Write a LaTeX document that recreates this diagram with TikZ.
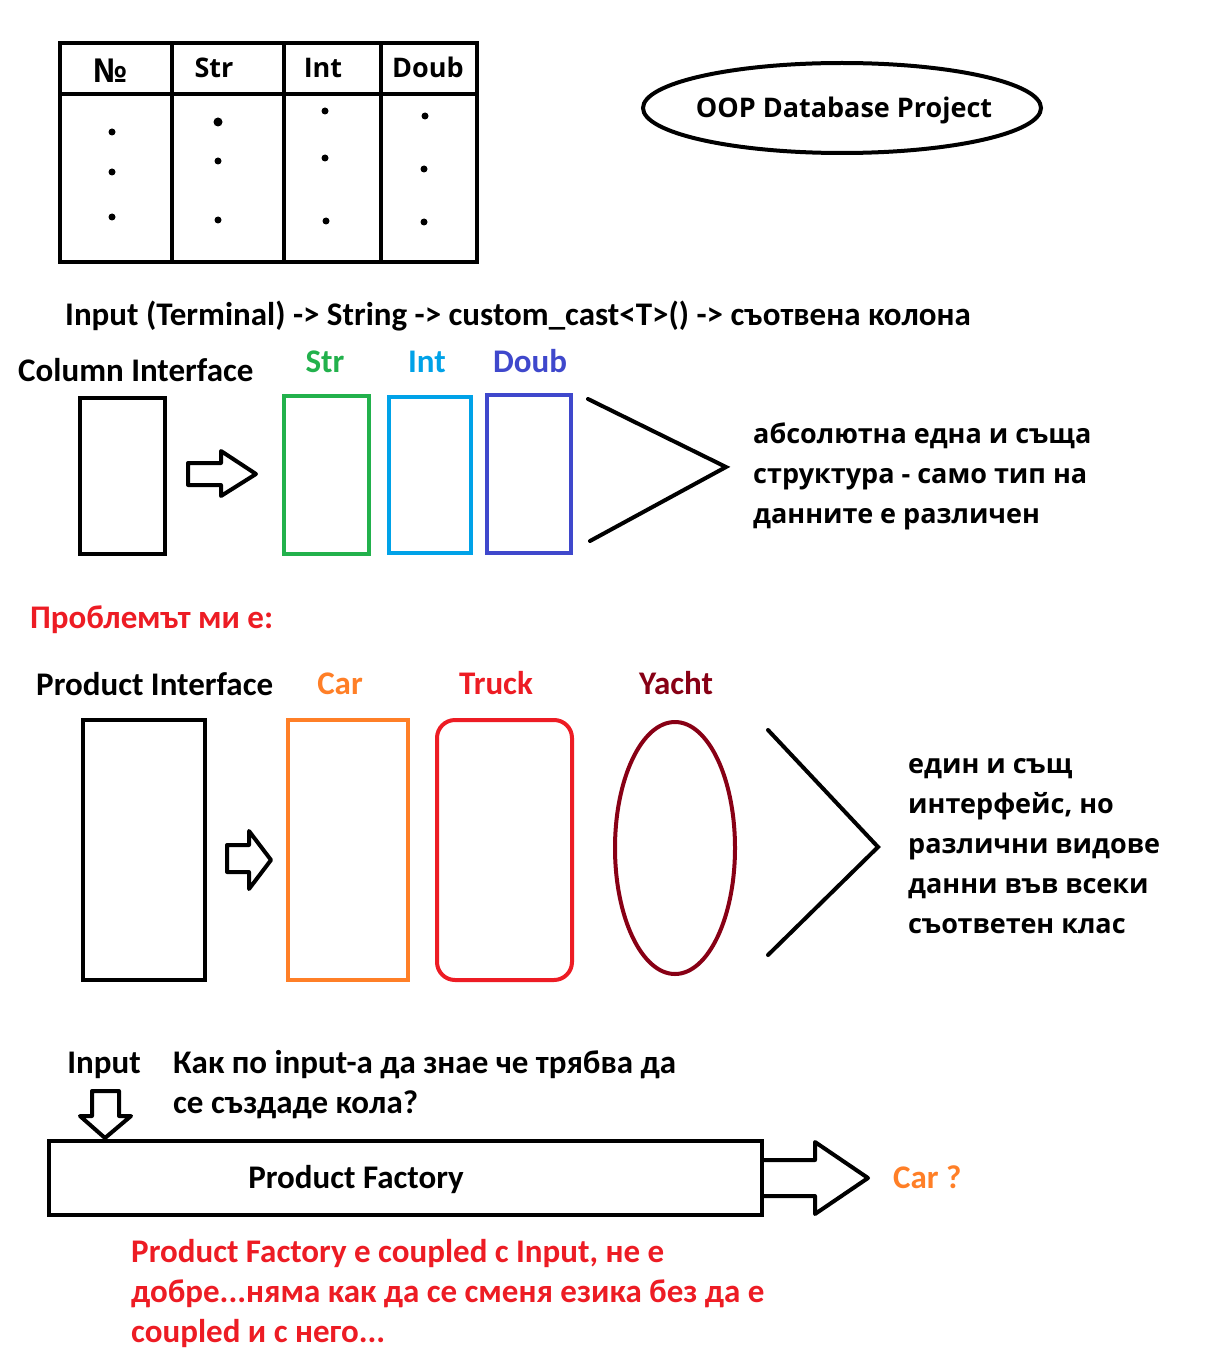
\documentclass[tikz,border=0pt]{standalone}
\usepackage{fontspec}
\setmainfont{Carlito}
\newfontfamily\seg{Open Sans}
\definecolor{cgreen}{RGB}{34,177,76}
\definecolor{ccyan}{RGB}{0,162,232}
\definecolor{cblue}{RGB}{63,72,204}
\definecolor{corange}{RGB}{255,127,39}
\definecolor{cred}{RGB}{237,28,36}
\definecolor{cdred}{RGB}{136,0,21}
\tikzset{
  tcal/.style={font=\fontsize{33}{38}\selectfont\bfseries, inner sep=0pt},
  tseg/.style={font=\seg\fontsize{27}{32}\selectfont\bfseries, inner sep=0pt},
  box/.style={draw, line width=4pt},
  hollow/.style={draw, line width=4pt, line join=round, fill=white},
  dot/.style={circle, fill=black, inner sep=0pt, minimum size=7pt},
}
\begin{document}
\begin{tikzpicture}[x=1pt,y=-1pt]
\useasboundingbox (0,0) rectangle (1222,1364);
\fill[white] (0,0) rectangle (1222,1364);

% ---- table ----
\draw[line width=4pt] (60,43) rectangle (477,262);
\draw[line width=4pt] (60,94) -- (477,94);
\draw[line width=4pt] (172,43) -- (172,262);
\draw[line width=4pt] (284,43) -- (284,262);
\draw[line width=4pt] (381,43) -- (381,262);
\node[tseg, anchor=base, font=\seg\fontsize{33}{38}\selectfont\bfseries] (hno) at (110,83) {№};
\node[tseg, anchor=base] (hstr) at (214,78) {Str};
\node[tseg, anchor=base] (hint) at (323,78) {Int};
\node[tseg, anchor=base] (hdoub) at (428,78) {Doub};
\node[dot] (d11) at (112,132) {};
\node[dot] (d12) at (112,172) {};
\node[dot] (d13) at (112,217) {};
\node[dot, minimum size=9pt] (d21) at (218,122) {};
\node[dot] (d22) at (218,161) {};
\node[dot] (d23) at (218,220) {};
\node[dot] (d31) at (325,111) {};
\node[dot] (d32) at (325,158) {};
\node[dot] (d33) at (326,221) {};
\node[dot] (d41) at (425,116) {};
\node[dot] (d42) at (424,169) {};
\node[dot] (d43) at (424,222) {};

% ---- title ellipse ----
\draw[line width=4pt] (842,108) ellipse [x radius=199, y radius=45];
\node[tseg, anchor=base] (title) at (844,118) {OOP Database Project};

% ---- pipeline line ----
\node[tcal, anchor=base west] (pipe) at (65,325) {Input (Terminal) -> String -> custom\_cast<T>() -> съотвена колона};

% ---- column interface ----
\node[tcal, anchor=base west] (colif) at (18,381) {Column Interface};
\node[tcal, anchor=base, text=cgreen] (lstr) at (325,372) {Str};
\node[tcal, anchor=base, text=ccyan] (lint) at (427,372) {Int};
\node[tcal, anchor=base, text=cblue] (ldoub) at (530,372) {Doub};
\draw[box] (80,398) rectangle (165,554);
\draw[hollow] (188,463) -- (221,463) -- (221,451) -- (256,474) -- (221,496) -- (221,485) -- (188,485) -- cycle;
\draw[box, cgreen] (284,396) rectangle (369,554);
\draw[box, ccyan] (389,397) rectangle (471,553);
\draw[box, cblue] (487,395) rectangle (571,553);
\draw[line width=4pt, line cap=round] (588,399) -- (726,467) -- (590,541);
\node[tseg, anchor=base west] (c1) at (753,443) {абсолютна една и съща};
\node[tseg, anchor=base west] (c2) at (753,483) {структура - само тип на};
\node[tseg, anchor=base west] (c3) at (753,523) {данните е различен};

% ---- problem ----
\node[tcal, anchor=base west, text=cred] (prob) at (30,628) {Проблемът ми е:};
\node[tcal, anchor=base west] (prodif) at (36,695) {Product Interface};
\node[tcal, anchor=base, text=corange] (lcar) at (340,694) {Car};
\node[tcal, anchor=base, text=cred] (ltruck) at (496,694) {Truck};
\node[tcal, anchor=base, text=cdred] (lyacht) at (676,694) {Yacht};
\draw[box] (83,720) rectangle (205,980);
\draw[hollow] (227,845) -- (249,845) -- (249,831) -- (271,860) -- (249,889) -- (249,872) -- (227,872) -- cycle;
\draw[box, corange] (288,720) rectangle (408,980);
\draw[box, cred, rounded corners=18pt] (437,720) rectangle (572,980);
\draw[line width=4pt, cdred] (675,848) ellipse [x radius=60, y radius=126];
\draw[line width=4pt, line cap=round] (768,730) -- (878,847) -- (768,955);
\node[tseg, anchor=base west] (p1) at (908,773) {един и същ};
\node[tseg, anchor=base west] (p2) at (908,813) {интерфейс, но};
\node[tseg, anchor=base west] (p3) at (908,853) {различни видове};
\node[tseg, anchor=base west] (p4) at (908,893) {данни във всеки};
\node[tseg, anchor=base west] (p5) at (908,933) {съответен клас};

% ---- factory ----
\node[tcal, anchor=base] (inp) at (104,1073) {Input};
\node[tcal, anchor=base west] (q1) at (173,1073) {Как по input-а да знае че трябва да};
\node[tcal, anchor=base west] (q2) at (173,1113) {се създаде кола?};
\draw[hollow] (92,1091) -- (119,1091) -- (119,1116) -- (131,1116) -- (105,1138) -- (80,1116) -- (92,1116) -- cycle;
\draw[box] (49,1141) rectangle (762,1215);
\node[tcal, anchor=base] (fact) at (356,1188) {Product Factory};
\draw[line width=4pt, line join=round] (762,1160) -- (815,1160) -- (815,1142) -- (868,1178) -- (815,1214) -- (815,1196) -- (762,1196);
\node[tcal, anchor=base west, text=corange] (carq) at (893,1188) {Car ?};
\node[tcal, anchor=base west, text=cred] (r1) at (131,1262) {Product Factory е coupled с Input, не е};
\node[tcal, anchor=base west, text=cred] (r2) at (131,1302) {добре...няма как да се сменя езика без да е};
\node[tcal, anchor=base west, text=cred] (r3) at (131,1342) {coupled и с него...};
\end{tikzpicture}
\end{document}
